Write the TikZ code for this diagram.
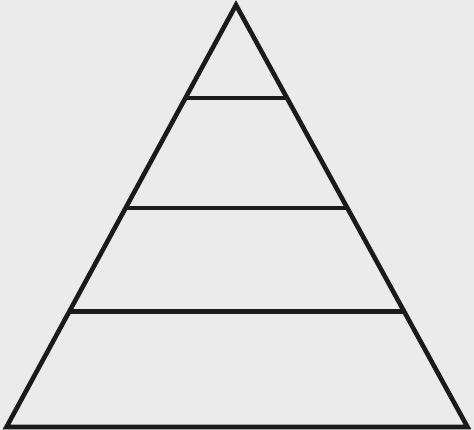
\documentclass[tikz,border=0pt]{standalone}
\definecolor{bg}{HTML}{EBEBEB}
\definecolor{ink}{HTML}{1A1A1A}
\begin{document}
\begin{tikzpicture}[x=1pt,y=-1pt,
  edge/.style={draw=ink,line width=4.6pt,line join=miter,miter limit=20}]
\fill[bg] (0,0) rectangle (474,430);
\useasboundingbox (0,0) rectangle (474,430);
\coordinate (apex) at (236,5);
\coordinate (bl) at (6.5,427);
\coordinate (br) at (467.5,427);
\draw[edge] (apex) -- (bl) -- (br) -- cycle;
\path (apex) -- (bl) coordinate[pos=0.2204] (l1) coordinate[pos=0.4810] (l2) coordinate[pos=0.7263] (l3);
\path (apex) -- (br) coordinate[pos=0.2204] (r1) coordinate[pos=0.4810] (r2) coordinate[pos=0.7263] (r3);
\draw[edge] (l1) -- (r1);
\draw[edge] (l2) -- (r2);
\draw[edge] (l3) -- (r3);
\end{tikzpicture}
\end{document}
